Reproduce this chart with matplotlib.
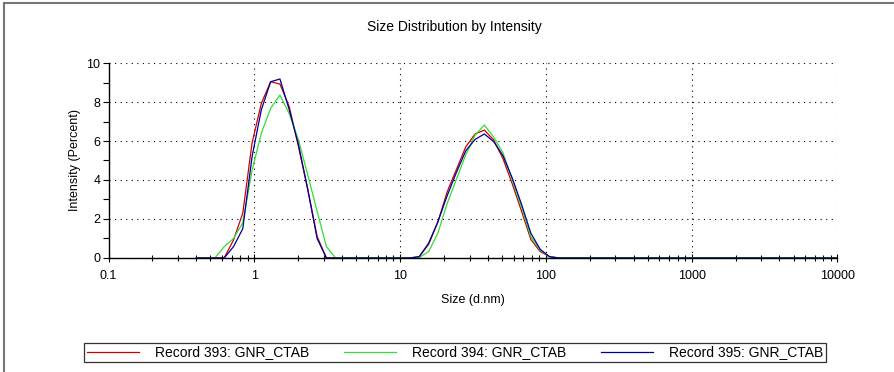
import numpy as np
import matplotlib
matplotlib.use('Agg')
import matplotlib.pyplot as plt
from matplotlib.ticker import FixedLocator, LogLocator, NullFormatter

plt.rcParams['font.family'] = ['Liberation Sans', 'DejaVu Sans']

# instrument size classes (d.nm)
sizes = [0.4, 0.4632, 0.5365, 0.6213, 0.7195, 0.8332, 0.9649, 1.117, 1.294, 1.499,
         1.736, 2.010, 2.328, 2.696, 3.122, 3.615, 4.187, 4.849, 5.615, 6.503,
         7.531, 8.721, 10.10, 11.70, 13.54, 15.69, 18.17, 21.04, 24.36, 28.21,
         32.67, 37.84, 43.82, 50.75, 58.77, 68.06, 78.82, 91.28, 105.7, 122.4,
         141.8, 164.2, 190.1, 220.2, 255.0, 295.3, 342.0, 396.1, 458.7, 531.2,
         615.1, 712.4, 825.0, 955.4, 1106, 1281, 1484, 1718, 1990, 2305,
         2669, 3091, 3580, 4145, 4801, 5560, 6439, 7456, 8635, 10000]

# intensity (%) per size class, first peak 0.4..4.187 then second peak 10.10..141.8
rec393_p1 = [0, 0, 0, 0, 0.92, 2.3, 5.9, 7.93, 9.04, 8.92, 7.76, 5.7, 3.5, 1.1, 0, 0, 0]
rec393_p2 = [0, 0, 0.07, 0.7, 1.86, 3.4, 4.55, 5.7, 6.36, 6.56, 6.05, 5.1, 3.8, 2.4, 0.95, 0.33, 0.07, 0, 0]
rec394_p1 = [0, 0, 0, 0.58, 1.0, 1.8, 4.5, 6.4, 7.68, 8.36, 7.4, 6.05, 4.25, 2.4, 0.58, 0, 0]
rec394_p2 = [0, 0, 0.03, 0.33, 1.28, 2.8, 4.05, 5.3, 6.3, 6.82, 6.2, 5.4, 4.0, 2.6, 1.1, 0.4, 0.07, 0, 0]
rec395_p1 = [0, 0, 0, 0, 0.58, 1.5, 5.2, 7.6, 9.04, 9.18, 7.6, 5.8, 3.5, 1.0, 0, 0, 0]
rec395_p2 = [0, 0, 0.07, 0.76, 1.86, 3.2, 4.4, 5.5, 6.08, 6.36, 5.97, 5.25, 4.1, 2.75, 1.27, 0.45, 0.07, 0, 0]

labels = ['Record 393: GNR_CTAB', 'Record 394: GNR_CTAB', 'Record 395: GNR_CTAB']
colors = ['#cc0000', '#33dd33', '#000099']


def full_series(p1, p2):
    # sizes between the two peaks and above the second are zero
    gap = [0] * (22 - len(p1))
    tail = [0] * (len(sizes) - 22 - len(p2))
    return np.array(p1 + gap + p2 + tail, dtype=float)


series = [full_series(rec393_p1, rec393_p2),
          full_series(rec394_p1, rec394_p2),
          full_series(rec395_p1, rec395_p2)]

fig = plt.figure(figsize=(8.94, 3.72), dpi=100)
ax = fig.add_axes([0.1214, 0.3065, 0.9368 - 0.1214, 0.8306 - 0.3065])

handles = []
for y, c, lab in zip(series, colors, labels):
    h, = ax.plot(sizes, y, color=c, lw=0.9, label=lab)
    handles.append(h)

ax.set_xscale('log')
ax.set_xlim(0.1, 10000)
ax.set_ylim(0, 10)

ax.xaxis.set_major_locator(FixedLocator([0.1, 1, 10, 100, 1000, 10000]))
ax.xaxis.set_minor_locator(LogLocator(base=10, subs=np.arange(2, 10)))
ax.xaxis.set_minor_formatter(NullFormatter())
ax.set_xticklabels(['0.1', '1', '10', '100', '1000', '10000'])
ax.yaxis.set_major_locator(FixedLocator([0, 2, 4, 6, 8, 10]))
ax.yaxis.set_minor_locator(FixedLocator([1, 3, 5, 7, 9]))

ax.tick_params(axis='x', which='major', direction='inout', length=6, width=0.8, labelsize=9, pad=6)
ax.tick_params(axis='x', which='minor', direction='inout', length=4, width=0.8)
ax.tick_params(axis='y', which='both', direction='out', length=4, width=0.8, labelsize=9, pad=2)

for s in ['top', 'right']:
    ax.spines[s].set_visible(False)
for s in ['left', 'bottom']:
    ax.spines[s].set_linewidth(1.0)

ax.grid(True, which='major', color='black', linestyle=(0, (1, 4)), linewidth=0.8)
ax.set_axisbelow(True)

ax.set_xlabel('Size (d.nm)', fontsize=9, labelpad=8)
ax.set_ylabel('Intensity (Percent)', fontsize=9, labelpad=4)
fig.text(0.508, 0.928, 'Size Distribution by Intensity', ha='center', va='center', fontsize=10)

leg = fig.legend(handles, labels, loc='center', bbox_to_anchor=(0.509, 0.0524), ncol=3,
                 fontsize=10, frameon=True, fancybox=False, handlelength=3.75,
                 handletextpad=1.15, columnspacing=2.5, borderpad=0.2, borderaxespad=0)
leg.get_frame().set_edgecolor('black')
leg.get_frame().set_linewidth(0.9)

# outer border of the report panel
fig.add_artist(plt.Line2D([0.004, 1.0], [0.991, 0.991], color='#777777', lw=1.5))
fig.add_artist(plt.Line2D([0.004, 0.004], [0.0, 0.991], color='#777777', lw=1.5))

fig.savefig('out.png', dpi=100)
